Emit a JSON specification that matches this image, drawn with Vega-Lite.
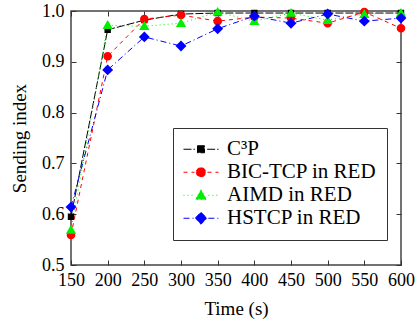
{
  "$schema": "https://vega.github.io/schema/vega-lite/v6.json",
  "width": 330,
  "height": 254,
  "autosize": {"type": "none"},
  "padding": {"left": 71, "top": 11, "right": 18, "bottom": 56},
  "background": "white",
  "config": {
    "font": "Liberation Serif",
    "style": {
      "guide-label": {"font": "Liberation Serif"},
      "guide-title": {"font": "Liberation Serif"}
    },
    "view": {"stroke": "#444", "strokeWidth": 1.5},
    "axis": {
      "grid": false,
      "domain": false,
      "tickColor": "#333",
      "tickWidth": 1,
      "tickSize": -5,
      "labelFont": "Liberation Serif",
      "labelFontSize": 18,
      "labelColor": "black",
      "labelOverlap": false,
      "labelFlush": false,
      "titleFont": "Liberation Serif",
      "titleFontSize": 19,
      "titleFontWeight": "normal",
      "titleColor": "black"
    },
    "legend": {
      "labelFont": "Liberation Serif",
      "labelFontSize": 21,
      "labelColor": "black",
      "symbolStrokeWidth": 1
    }
  },
  "data": {
    "values": [
      {"t": 150, "v": 0.595, "s": "C³P"},
      {"t": 200, "v": 0.963, "s": "C³P"},
      {"t": 250, "v": 0.982, "s": "C³P"},
      {"t": 300, "v": 0.994, "s": "C³P"},
      {"t": 350, "v": 0.996, "s": "C³P"},
      {"t": 400, "v": 0.996, "s": "C³P"},
      {"t": 450, "v": 0.996, "s": "C³P"},
      {"t": 500, "v": 0.996, "s": "C³P"},
      {"t": 550, "v": 0.996, "s": "C³P"},
      {"t": 600, "v": 0.996, "s": "C³P"},
      {"t": 150, "v": 0.559, "s": "BIC-TCP in RED"},
      {"t": 200, "v": 0.911, "s": "BIC-TCP in RED"},
      {"t": 250, "v": 0.984, "s": "BIC-TCP in RED"},
      {"t": 300, "v": 0.992, "s": "BIC-TCP in RED"},
      {"t": 350, "v": 0.98, "s": "BIC-TCP in RED"},
      {"t": 400, "v": 0.988, "s": "BIC-TCP in RED"},
      {"t": 450, "v": 0.986, "s": "BIC-TCP in RED"},
      {"t": 500, "v": 0.976, "s": "BIC-TCP in RED"},
      {"t": 550, "v": 0.998, "s": "BIC-TCP in RED"},
      {"t": 600, "v": 0.966, "s": "BIC-TCP in RED"},
      {"t": 150, "v": 0.569, "s": "AIMD in RED"},
      {"t": 200, "v": 0.972, "s": "AIMD in RED"},
      {"t": 250, "v": 0.97, "s": "AIMD in RED"},
      {"t": 300, "v": 0.976, "s": "AIMD in RED"},
      {"t": 350, "v": 0.998, "s": "AIMD in RED"},
      {"t": 400, "v": 0.98, "s": "AIMD in RED"},
      {"t": 450, "v": 0.996, "s": "AIMD in RED"},
      {"t": 500, "v": 0.982, "s": "AIMD in RED"},
      {"t": 550, "v": 0.994, "s": "AIMD in RED"},
      {"t": 600, "v": 0.996, "s": "AIMD in RED"},
      {"t": 150, "v": 0.614, "s": "HSTCP in RED"},
      {"t": 200, "v": 0.884, "s": "HSTCP in RED"},
      {"t": 250, "v": 0.949, "s": "HSTCP in RED"},
      {"t": 300, "v": 0.931, "s": "HSTCP in RED"},
      {"t": 350, "v": 0.965, "s": "HSTCP in RED"},
      {"t": 400, "v": 0.99, "s": "HSTCP in RED"},
      {"t": 450, "v": 0.976, "s": "HSTCP in RED"},
      {"t": 500, "v": 0.994, "s": "HSTCP in RED"},
      {"t": 550, "v": 0.98, "s": "HSTCP in RED"},
      {"t": 600, "v": 0.986, "s": "HSTCP in RED"}
    ]
  },
  "layer": [
    {
      "mark": {"type": "line", "strokeWidth": 1},
      "encoding": {
        "x": {
          "field": "t", "type": "quantitative",
          "scale": {"domain": [150, 600], "nice": false, "zero": false},
          "axis": {"orient": "bottom", "values": [150, 200, 250, 300, 350, 400, 450, 500, 550, 600], "title": "Time (s)", "labelFont": "Liberation Serif", "titleFont": "Liberation Serif", "labelPadding": 11, "titlePadding": 10}
        },
        "y": {
          "field": "v", "type": "quantitative",
          "scale": {"domain": [0.5, 1.0], "nice": false, "zero": false},
          "axis": {"orient": "left", "values": [0.5, 0.6, 0.7, 0.8, 0.9, 1.0], "format": ".1f", "title": "Sending index", "labelFont": "Liberation Serif", "titleFont": "Liberation Serif", "labelPadding": 12, "titlePadding": 12}
        },
        "color": {
          "field": "s", "type": "nominal",
          "scale": {"domain": ["C³P", "BIC-TCP in RED", "AIMD in RED", "HSTCP in RED"], "range": ["black", "#ff0000", "#00ee00", "#0000ff"]}
        },
        "strokeDash": {
          "field": "s", "type": "nominal",
          "scale": {"domain": ["C³P", "BIC-TCP in RED", "AIMD in RED", "HSTCP in RED"], "range": [[8, 2], [4, 4], [1, 3], [6, 3, 1, 3]]}
        }
      }
    },
    {
      "mark": {"type": "point", "filled": false, "opacity": 1, "size": 1024, "strokeWidth": 0},
      "encoding": {
        "x": {
          "field": "t", "type": "quantitative",
          "axis": {"orient": "top", "values": [150, 200, 250, 300, 350, 400, 450, 500, 550, 600], "labels": false, "title": null}
        },
        "y": {
          "field": "v", "type": "quantitative",
          "axis": {"orient": "right", "values": [0.5, 0.6, 0.7, 0.8, 0.9, 1.0], "labels": false, "title": null}
        },
        "color": {
          "field": "s", "type": "nominal",
          "legend": {
            "title": null, "orient": "none", "legendX": 102, "legendY": 117,
            "padding": 10, "strokeColor": "#333", "fillColor": "white",
            "symbolSize": 1225, "symbolStrokeWidth": 1, "clipHeight": 22.5, "rowPadding": 0, "labelOffset": 8,
            "labelFont": "Liberation Serif", "labelFontSize": 21
          }
        },
        "fill": {
          "field": "s", "type": "nominal",
          "scale": {"domain": ["C³P", "BIC-TCP in RED", "AIMD in RED", "HSTCP in RED"], "range": ["black", "#ff0000", "#00ee00", "#0000ff"]}
        },
        "shape": {
          "field": "s", "type": "nominal",
          "scale": {
            "domain": ["C³P", "BIC-TCP in RED", "AIMD in RED", "HSTCP in RED"],
            "range": [
              "M-1,0H-0.35M0.35,0H1M-0.2,-0.2H0.2V0.2H-0.2Z",
              "M-1,0H-0.37M0.37,0H1M-0.27,0A0.27,0.27 0 1 0 0.27,0A0.27,0.27 0 1 0 -0.27,0Z",
              "M-1,0H-0.42M0.42,0H1M0,-0.32L0.32,0.24L-0.32,0.24Z",
              "M-1,0H-0.42M0.42,0H1M0,-0.34L0.34,0L0,0.34L-0.34,0Z"
            ]
          }
        }
      }
    }
  ],
  "resolve": {
    "axis": {"x": "independent", "y": "independent"}
  }
}
